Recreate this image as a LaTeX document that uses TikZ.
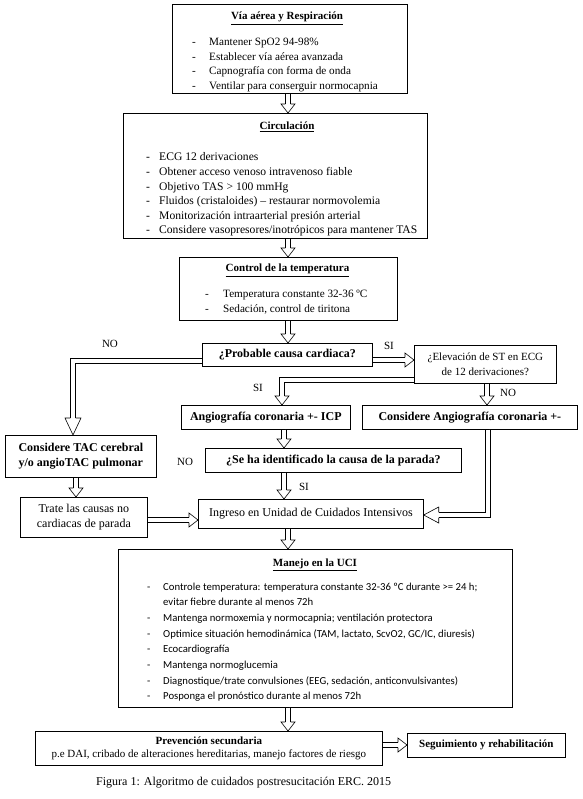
\documentclass[tikz,border=0pt]{standalone}
\usepackage{fontspec}
\setmainfont{Liberation Serif}
\newfontfamily\calfont{Carlito}
\usetikzlibrary{calc}
\def\headw{7}
\newcommand\arrowhead[2]{%
  \draw[arr] ($(#1)!2.7pt!90:(#2)$) -- ($(#1)!\headw pt!90:(#2)$) -- (#2) -- ($(#1)!\headw pt!-90:(#2)$) -- ($(#1)!2.7pt!-90:(#2)$);}
\newcommand\blockarrow[3][9]{%
  \coordinate (eS) at (#2); \coordinate (eT) at (#3);
  \coordinate (eH) at ($(eT)!#1pt!(eS)$);
  \draw[dbl] (eS) -- (eH);
  \arrowhead{eH}{eT}}
\newcommand\elbowarrow[4][9]{%
  \coordinate (eS) at (#2); \coordinate (eC) at (#3); \coordinate (eT) at (#4);
  \coordinate (eH) at ($(eT)!#1pt!(eC)$);
  \draw[dbl] (eS) -- (eC) -- (eH);
  \arrowhead{eH}{eT}}
\begin{document}
\begin{tikzpicture}[x=1pt,y=-1pt,
  box/.style={draw, line width=0.7pt, inner sep=0pt, anchor=north west},
  lbl/.style={inner sep=0pt, font=\fontsize{11}{13}\selectfont},
  ttl/.style={inner sep=0pt, anchor=base, font=\fontsize{11}{13}\selectfont\bfseries},
  arr/.style={line width=0.6pt, line join=miter},
  dbl/.style={line width=0.6pt, double=white, double distance=4.8pt, line join=miter},
  bt/.style={font=\fontsize{12}{15}\selectfont\bfseries, align=center},
  rt/.style={font=\fontsize{12}{15}\selectfont, align=center}]
\useasboundingbox (0,0) rectangle (582,799);
\fill[white] (0,0) rectangle (582,799);
% column coordinates
\coordinate (cx) at (288,0);
\coordinate (ax) at (284,0);
\coordinate (nox) at (487,0);
\coordinate (tx) at (76,0);
\coordinate (ysi) at (0,360);
\coordinate (ty) at (0,520);
\coordinate (sy) at (0,745);
\coordinate (nocorner) at (73,361);
\coordinate (sicorner) at (282,380);
\coordinate (rcorner) at (488,515);

% Box 1
\node[box, minimum width=235pt, minimum height=89pt] (b1) at (172,4) {};
\node[ttl] (b1t) at (287,20) {\underline{Vía aérea y Respiración}};
\node[lbl, anchor=base west, font=\fontsize{11.2}{14.4}\selectfont] (b1l) at (192,46) {\begin{tabular}[t]{@{}p{17pt}@{}l@{}}-&Mantener SpO2 94-98\%\\ -&Establecer vía aérea avanzada\\ -&Capnografía con forma de onda\\ -&Ventilar para conserguir normocapnia\end{tabular}};

% Box 2
\node[box, minimum width=304pt, minimum height=125pt] (b2) at (123,113) {};
\node[ttl] (b2t) at (287,130) {\underline{Circulación}};
\node[lbl, anchor=base west, font=\fontsize{11.6}{14.6}\selectfont] (b2l) at (146,161) {\begin{tabular}[t]{@{}p{13pt}@{}l@{}}-&ECG 12 derivaciones\\ -&Obtener acceso venoso intravenoso fiable\\ -&Objetivo TAS > 100 mmHg\\ -&Fluidos (cristaloides) – restaurar normovolemia\\ -&Monitorización intraarterial presión arterial\\ -&Considere vasopresores/inotrópicos para mantener TAS\end{tabular}};

% Box 3
\node[box, minimum width=218pt, minimum height=63pt] (b3) at (179,257) {};
\node[ttl] (b3t) at (287.5,272) {\underline{Control de la temperatura}};
\node[lbl, anchor=base west, font=\fontsize{11.2}{15}\selectfont] (b3l) at (205,297) {\begin{tabular}[t]{@{}p{18pt}@{}l@{}}-&Temperatura constante 32-36 ºC\\ -&Sedación, control de tiritona\end{tabular}};

% Decision part
\node[box, bt, minimum width=170pt, minimum height=23pt] (prob) at (202,343) {¿Probable causa cardiaca?};
\node[box, font=\fontsize{11}{15}\selectfont, align=center, minimum width=142pt, minimum height=38pt] (st) at (414,345) {¿Elevación de ST en ECG\\de 12 derivaciones?};
\node[box, bt, minimum width=169pt, minimum height=24pt] (ai) at (181,405) {Angiografía coronaria +- ICP};
\node[box, bt, minimum width=215pt, minimum height=24pt] (ca) at (362,405) {Considere Angiografía coronaria +-};
\node[box, bt, minimum width=256pt, minimum height=24pt] (sh) at (205,448) {¿Se ha identificado la causa de la parada?};
\node[box, rt, minimum width=225pt, minimum height=29pt] (ing) at (198,499) {Ingreso en Unidad de Cuidados Intensivos};
\node[box, bt, minimum width=151pt, minimum height=42pt] (tac) at (5,435) {Considere TAC cerebral\\y/o angioTAC pulmonar};
\node[box, rt, minimum width=127pt, minimum height=40pt] (tr) at (20,497) {Trate las causas no\\cardiacas de parada};

% labels
\node[lbl] (lno1) at (110,344) {NO};
\node[lbl] (lsi1) at (389,346) {SI};
\node[lbl] (lsi2) at (258,388) {SI};
\node[lbl] (lno2) at (508,393) {NO};
\node[lbl] (lno3) at (185,462) {NO};
\node[lbl] (lsi3) at (304,487) {SI};

% UCI box
\node[box, minimum width=394pt, minimum height=158pt] (uci) at (118,549) {};
\node[ttl] (ucit) at (315,566) {\underline{Manejo en la UCI}};
\node[lbl, anchor=base west, font=\calfont\fontsize{10.7}{15.7}\selectfont] (ucil) at (147,590) {\begin{tabular}[t]{@{}p{16pt}@{}l@{}}-&Controle temperatura: temperatura constante 32-36 ºC durante >= 24 h;\\ &evitar fiebre durante al menos 72h\\ -&Mantenga normoxemia y normocapnia; ventilación protectora\\ -&Optimice situación hemodinámica (TAM, lactato, ScvO2, GC/IC, diuresis)\\ -&Ecocardiografía\\ -&Mantenga normoglucemia\\ -&Diagnostique/trate convulsiones (EEG, sedación, anticonvulsivantes)\\ -&Posponga el pronóstico durante al menos 72h\end{tabular}};

% bottom
\node[box, align=center, font=\fontsize{11}{13}\selectfont, minimum width=347pt, minimum height=34pt] (pv) at (35,731) {\textbf{Prevención secundaria}\\p.e DAI, cribado de alteraciones hereditarias, manejo factores de riesgo};
\node[box, font=\fontsize{11}{13}\selectfont\bfseries, minimum width=158pt, minimum height=24pt] (sg) at (407,733) {Seguimiento y rehabilitación};
\node[anchor=west, inner sep=0pt, font=\fontsize{12}{14}\selectfont] (cap) at (96,783) {Figura 1: Algoritmo de cuidados postresucitación ERC. 2015};

% arrows
\blockarrow{b1.south -| cx}{b2.north -| cx}
\blockarrow{b2.south -| cx}{b3.north -| cx}
\blockarrow{b3.south -| cx}{prob.north -| cx}
\blockarrow{prob.east |- ysi}{st.west |- ysi}
{\def\headw{8}\elbowarrow[17]{prob.west |- nocorner}{nocorner}{nocorner |- tac.north}}
\elbowarrow{st.west |- sicorner}{sicorner}{sicorner |- ai.north}
\blockarrow{st.south -| nox}{ca.north -| nox}
\blockarrow{ai.south -| ax}{sh.north -| ax}
\blockarrow{sh.south -| ax}{ing.north -| ax}
\blockarrow{tac.south -| tx}{tr.north -| tx}
\blockarrow{tr.east |- ty}{ing.west |- ty}
{\def\headw{8}\elbowarrow[15]{ca.south -| rcorner}{rcorner}{ing.east |- rcorner}}
\blockarrow{ing.south -| cx}{uci.north -| cx}
\blockarrow{uci.south -| cx}{pv.north -| cx}
\blockarrow{pv.east |- sy}{sg.west |- sy}
\end{tikzpicture}
\end{document}
